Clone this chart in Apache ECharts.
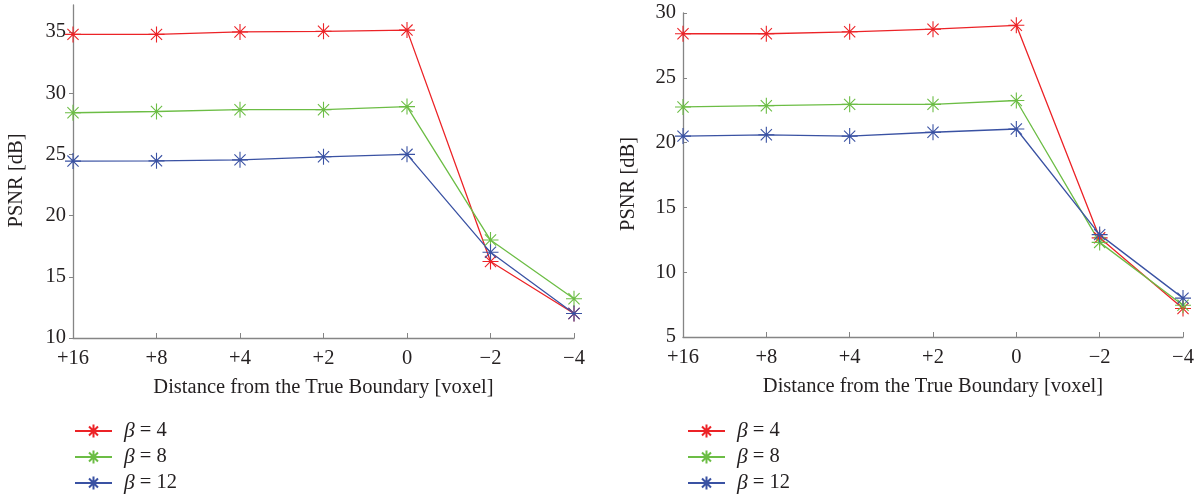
<!DOCTYPE html>
<html>
<head>
<meta charset="utf-8">
<title>PSNR vs distance</title>
<script src="https://cdn.jsdelivr.net/npm/echarts@6/dist/echarts.min.js"></script>
<style>
  html, body { margin: 0; padding: 0; background: #fff; }
  #chart { width: 1202px; height: 496px; }
</style>
</head>
<body>
<div id="chart"></div>
<script>
// distance labels along x
const xLabels = ['+16', '+8', '+4', '+2', '0', '\u22122', '\u22124']

// left panel PSNR values
const leftBeta4 = [34.8, 34.8, 35.0, 35.05, 35.15, 16.25, 12.0]
const leftBeta8 = [28.4, 28.5, 28.65, 28.65, 28.9, 18.0, 13.2]
const leftBeta12 = [24.45, 24.47, 24.55, 24.8, 25.0, 17.0, 12.0]

// right panel PSNR values
const rightBeta4 = [28.4, 28.4, 28.55, 28.75, 29.05, 12.65, 7.2]
const rightBeta8 = [22.75, 22.85, 22.95, 22.95, 23.25, 12.3, 7.45]
const rightBeta12 = [20.5, 20.6, 20.5, 20.8, 21.05, 12.9, 8.0]

const leftTicks = [10, 15, 20, 25, 30, 35]
const rightTicks = [5, 10, 15, 20, 25, 30]

const seriesNames = ['\u03b2 = 4', '\u03b2 = 8', '\u03b2 = 12']
const colors = ['#ec2327', '#6cbd45', '#3a52a3']

const FONT = 'Liberation Serif'
const FS = 20.5
const TEXT = '#231f20'
const AXIS = '#858585'

// MATLAB-like '*' marker: plus + cross strokes
const star = 'path://M0 5L10 5M5 0L5 10M1.5 1.5L8.5 8.5M8.5 1.5L1.5 8.5'

const chart = echarts.init(document.getElementById('chart'))

const makeX = (gridIndex) => ({
  type: 'category',
  gridIndex,
  data: xLabels,
  boundaryGap: false,
  name: 'Distance from the True Boundary [voxel]',
  nameLocation: 'middle',
  nameGap: 39,
  nameTextStyle: { fontFamily: FONT, fontSize: FS, color: TEXT },
  axisLine: { lineStyle: { color: AXIS, width: 1.3 } },
  axisTick: { inside: true, length: 5, lineStyle: { color: AXIS } },
  axisLabel: { fontFamily: FONT, fontSize: FS, color: TEXT, margin: 10, interval: 0 },
  splitLine: { show: false }
})

const makeY = (gridIndex, min, max, ticks, inside, nameGap) => ({
  type: 'value',
  gridIndex,
  min,
  max,
  interval: 5,
  name: 'PSNR [dB]',
  nameLocation: 'middle',
  nameGap,
  // right padding nudges the rotated title a little lower
  nameTextStyle: { fontFamily: FONT, fontSize: FS, color: TEXT, padding: [0, 18, 0, 0] },
  axisLine: { show: true, lineStyle: { color: AXIS, width: 1.3 } },
  axisTick: { show: true, inside, length: 4, customValues: ticks, lineStyle: { color: AXIS } },
  axisLabel: { fontFamily: FONT, fontSize: FS, color: TEXT, margin: 7, customValues: ticks },
  splitLine: { show: false }
})

const makeSeries = (name, color, data, idx) => ({
  name,
  type: 'line',
  xAxisIndex: idx,
  yAxisIndex: idx,
  data,
  symbol: star,
  symbolSize: 16,
  showSymbol: true,
  lineStyle: { color, width: 1.3 },
  itemStyle: { color, borderColor: color, borderWidth: 1.1 },
  emphasis: { disabled: true },
  animation: false
})

const makeLegend = (left) => ({
  orient: 'vertical',
  left,
  top: 420,
  height: 90,
  padding: 0,
  itemWidth: 37,
  itemHeight: 16,
  itemGap: 4,
  data: seriesNames,
  formatter: (name) => '{i|\u03b2}' + name.slice(1),
  textStyle: {
    fontFamily: FONT,
    fontSize: FS,
    lineHeight: 20,
    color: TEXT,
    padding: [0, 0, 0, 7],
    rich: { i: { fontFamily: FONT, fontSize: FS + 1, lineHeight: 20, fontStyle: 'italic', color: TEXT } }
  }
})

const option = {
  backgroundColor: '#fff',
  animation: false,
  legend: [makeLegend(74), makeLegend(687)],
  grid: [
    { left: 73, top: 5, width: 501, height: 333 },
    { left: 683, top: 13, width: 500, height: 324 }
  ],
  xAxis: [makeX(0), makeX(1)],
  yAxis: [
    makeY(0, 10, 37.2, leftTicks, false, 46),
    makeY(1, 5, 30, rightTicks, true, 44)
  ],
  series: [
    makeSeries(seriesNames[0], colors[0], leftBeta4, 0),
    makeSeries(seriesNames[1], colors[1], leftBeta8, 0),
    makeSeries(seriesNames[2], colors[2], leftBeta12, 0),
    makeSeries(seriesNames[0], colors[0], rightBeta4, 1),
    makeSeries(seriesNames[1], colors[1], rightBeta8, 1),
    makeSeries(seriesNames[2], colors[2], rightBeta12, 1)
  ]
}

chart.setOption(option)
</script>
</body>
</html>
